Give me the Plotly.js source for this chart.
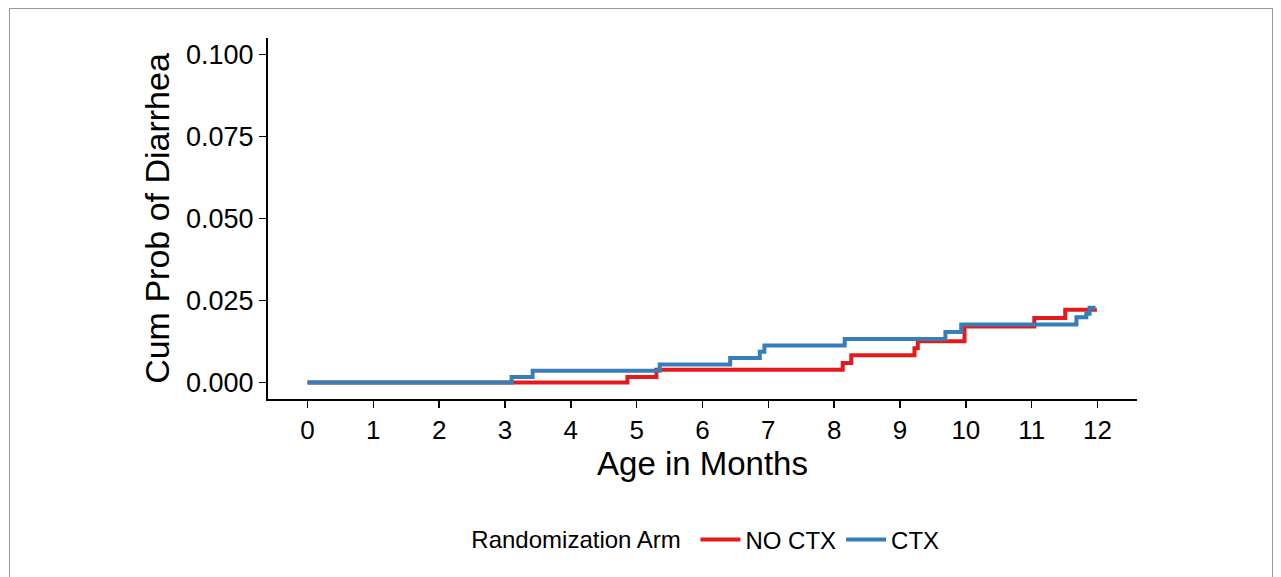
<!DOCTYPE html>
<html>
<head>
<meta charset="utf-8">
<script src="https://cdn.plot.ly/plotly-3.0.1.min.js"></script>
<style>
  html, body { margin: 0; padding: 0; background: #fff; }
  #chart { width: 1281px; height: 577px; }
  #frame { position: absolute; left: 9px; top: 8px; width: 1262px; height: 600px; border: 1px solid #8c9aa3; pointer-events: none; }
</style>
</head>
<body>
<div id="chart"></div>
<div id="frame"></div>
<script>
// Step times (months) and cumulative probabilities
const noCtxTime = [0, 4.86, 5.30, 8.13, 8.26, 9.22, 9.27, 9.98, 11.04, 11.51, 11.99];
const noCtxProb = [0, 0.0017, 0.0039, 0.0060, 0.0083, 0.0105, 0.0126, 0.0171, 0.0197, 0.0222, 0.0222];

const ctxTime = [0, 3.10, 3.42, 5.35, 6.42, 6.87, 6.94, 8.16, 9.69, 9.93, 11.68, 11.83, 11.88, 11.97];
const ctxProb = [0, 0.0017, 0.0036, 0.0055, 0.0075, 0.0094, 0.0113, 0.0133, 0.0154, 0.0177, 0.0199, 0.0210, 0.0228, 0.0228];

const seriesNames = ["NO CTX", "CTX"];
const xTicks = [0,1,2,3,4,5,6,7,8,9,10,11,12];
const yTicks = [0, 0.025, 0.05, 0.075, 0.1];
const yTickText = ["0.000", "0.025", "0.050", "0.075", "0.100"];

const font = "Liberation Sans, Arial, Helvetica, sans-serif";

const traces = [
  { x: noCtxTime, y: noCtxProb, name: seriesNames[0], type: "scatter", mode: "lines",
    line: { shape: "hv", color: "#E41A1C", width: 4 } },
  { x: ctxTime, y: ctxProb, name: seriesNames[1], type: "scatter", mode: "lines",
    line: { shape: "hv", color: "#377EB8", width: 4 } }
];

const layout = {
  width: 1281, height: 577,
  paper_bgcolor: "#fff", plot_bgcolor: "#fff",
  margin: { l: 268, r: 144, t: 37.5, b: 177.5 },
  font: { family: font, color: "#000" },
  showlegend: true,
  xaxis: {
    range: [-0.6, 12.6], tickvals: xTicks, ticktext: xTicks.map(String),
    showgrid: false, zeroline: false, showline: true, linecolor: "#000", linewidth: 2,
    ticks: "outside", ticklen: 7, tickwidth: 1.5, tickcolor: "#000",
    tickfont: { size: 26, family: font, color: "#000" },
    title: { text: "Age in Months", font: { size: 33, family: font, color: "#000" }, standoff: 4 }
  },
  yaxis: {
    range: [-0.005, 0.105], tickvals: yTicks, ticktext: yTickText,
    showgrid: false, zeroline: false, showline: true, linecolor: "#000", linewidth: 2,
    ticks: "outside", ticklen: 7, tickwidth: 1.5, tickcolor: "#000",
    tickfont: { size: 27, family: font, color: "#000" },
    title: { text: "Cum Prob of Diarrhea", font: { size: 34, family: font, color: "#000" }, standoff: 6 }
  },
  legend: {
    orientation: "h", x: 0.505, xanchor: "center", y: -0.39, yanchor: "middle",
    font: { size: 24, family: font, color: "#000" },
    title: { text: "Randomization Arm ", side: "left", font: { size: 24, family: font, color: "#000" } },
    itemwidth: 40, bgcolor: "rgba(0,0,0,0)"
  }
};

Plotly.newPlot("chart", traces, layout, { displayModeBar: false, staticPlot: true });
</script>
</body>
</html>
